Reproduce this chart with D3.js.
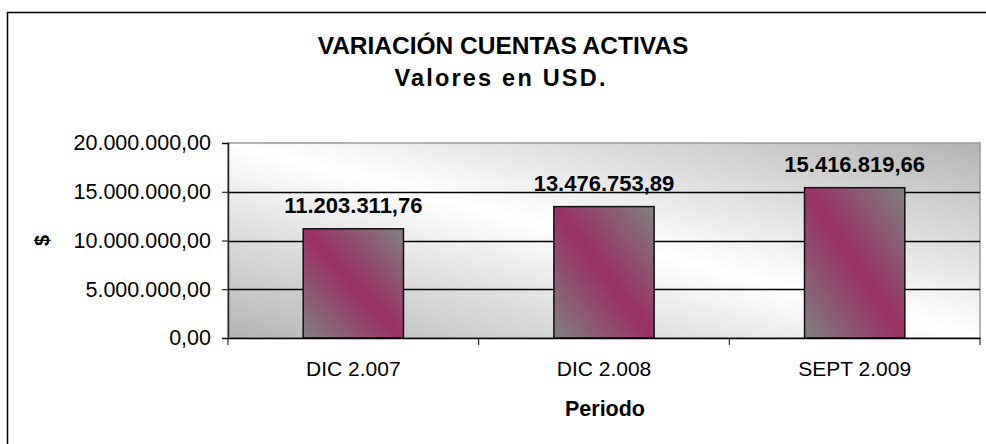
<!doctype html>
<html lang="es">

<head>
    <meta charset="utf-8">
    <title>Variación cuentas activas</title>
    <style>
        body {
            margin: 0;
            background-color: white;
            font-family: 'Liberation Sans', Arial, sans-serif;
        }

        svg text {
            fill: #000;
        }
    </style>
</head>

<body>
    <svg id="chart"></svg>
    <script src="https://d3js.org/d3.v7.min.js"></script>
    <script>

        var categories = ["DIC 2.007", "DIC 2.008", "SEPT 2.009"];
        var values = [11203311.76, 13476753.89, 15416819.66];
        var yTicks = [0, 5000000, 10000000, 15000000, 20000000];

        var titleLines = ["VARIACIÓN CUENTAS ACTIVAS", "Valores en USD."];

        var svgWidth = 986;
        var svgHeight = 444;

        var margin = { top: 143, right: 6, bottom: 106, left: 228 };
        var width = svgWidth - margin.left - margin.right;
        var height = svgHeight - margin.top - margin.bottom;

        var locale = d3.formatLocale({ decimal: ",", thousands: ".", grouping: [3], currency: ["$", ""] });
        var fmt = locale.format(",.2f");

        var svg = d3.select("#chart")
            .attr("width", svgWidth)
            .attr("height", svgHeight);

        var defs = svg.append("defs");

        var bg = defs.append("linearGradient")
            .attr("id", "plot-bg")
            .attr("x1", 0).attr("y1", 1)
            .attr("x2", 1).attr("y2", 0);
        bg.append("stop").attr("offset", "0%").attr("stop-color", "#b4b4b4");
        bg.append("stop").attr("offset", "50%").attr("stop-color", "#ffffff");
        bg.append("stop").attr("offset", "100%").attr("stop-color", "#b4b4b4");

        var barGrad = defs.append("linearGradient")
            .attr("id", "bar-fill")
            .attr("x1", 0).attr("y1", 1)
            .attr("x2", 1).attr("y2", 0);
        barGrad.append("stop").attr("offset", "0%").attr("stop-color", "#808080");
        barGrad.append("stop").attr("offset", "48%").attr("stop-color", "#993366");
        barGrad.append("stop").attr("offset", "52%").attr("stop-color", "#993366");
        barGrad.append("stop").attr("offset", "100%").attr("stop-color", "#808080");

        // outer chart border (cut off at the right and bottom)
        svg.append("rect")
            .attr("x", 7.5).attr("y", 12.5)
            .attr("width", 1000).attr("height", 500)
            .attr("fill", "white")
            .attr("stroke", "#000")
            .attr("stroke-width", 1.5);

        // title
        svg.append("text")
            .attr("x", 503).attr("y", 54)
            .attr("text-anchor", "middle")
            .style("font-size", "24.5px")
            .style("font-weight", "bold")
            .text(titleLines[0]);

        svg.append("text")
            .attr("x", 501).attr("y", 86)
            .attr("text-anchor", "middle")
            .style("font-size", "23.5px")
            .style("font-weight", "bold")
            .style("letter-spacing", "2.2px")
            .text(titleLines[1]);

        var g = svg.append("g")
            .attr("transform", "translate(" + margin.left + "," + margin.top + ")");

        var x = d3.scaleBand()
            .domain(categories)
            .range([0, width])
            .paddingInner(0.6)
            .paddingOuter(0.3);

        var y = d3.scaleLinear()
            .domain([0, 20000000])
            .range([height, 0]);

        g.append("rect")
            .attr("width", width)
            .attr("height", height)
            .attr("fill", "url(#plot-bg)")
            .attr("stroke", "#999")
            .attr("stroke-width", 1.5);

        // gridlines
        g.selectAll(".grid")
            .data(yTicks.filter(function (d) { return d > 0 && d < 20000000 }))
            .enter().append("line")
            .attr("x1", 0).attr("x2", width)
            .attr("y1", function (d) { return Math.round(y(d)) + 0.5 })
            .attr("y2", function (d) { return Math.round(y(d)) + 0.5 })
            .attr("stroke", "#000")
            .attr("stroke-width", 1.3);

        // y axis
        var yAxis = g.append("g")
            .call(d3.axisLeft(y)
                .tickValues(yTicks)
                .tickSize(6)
                .tickPadding(11)
                .tickFormat(fmt));
        yAxis.select(".domain").attr("stroke", "#222").attr("stroke-width", 1.5);
        yAxis.selectAll(".tick line").attr("stroke", "#000");
        yAxis.selectAll("text")
            .style("font-size", "21.5px")
            .style("font-family", "'Liberation Sans', Arial, sans-serif");

        // bars
        g.selectAll(".bar")
            .data(values)
            .enter().append("rect")
            .attr("class", "bar")
            .attr("x", function (d, i) { return x(categories[i]) })
            .attr("y", function (d) { return y(d) })
            .attr("width", x.bandwidth())
            .attr("height", function (d) { return height - y(d) })
            .attr("fill", "url(#bar-fill)")
            .attr("stroke", "#111")
            .attr("stroke-width", 1.5);

        // value labels
        g.selectAll(".value")
            .data(values)
            .enter().append("text")
            .attr("x", function (d, i) { return x(categories[i]) + x.bandwidth() / 2 })
            .attr("y", function (d) { return y(d) - 16 })
            .attr("text-anchor", "middle")
            .style("font-size", "22px")
            .style("font-weight", "bold")
            .text(function (d) { return fmt(d) });

        // x axis
        var xAxis = g.append("g")
            .attr("transform", "translate(0," + height + ")")
            .call(d3.axisBottom(x).tickSize(0).tickPadding(23));
        xAxis.select(".domain").attr("stroke", "#000").attr("stroke-width", 1.5);
        xAxis.selectAll("text")
            .style("font-size", "21px")
            .style("font-family", "'Liberation Sans', Arial, sans-serif");

        // category boundary ticks
        var bounds = [0].concat(categories.map(function (c) { return x(c) + x.bandwidth() / 2 + x.step() / 2 }));
        g.selectAll(".xtick")
            .data(bounds)
            .enter().append("line")
            .attr("x1", function (d) { return d }).attr("x2", function (d) { return d })
            .attr("y1", height).attr("y2", height + 7)
            .attr("stroke", "#000");

        // axis titles
        g.append("text")
            .attr("x", width / 2 + 1)
            .attr("y", height + 78)
            .attr("text-anchor", "middle")
            .style("font-size", "21.5px")
            .style("font-weight", "bold")
            .text("Periodo");

        svg.append("text")
            .attr("transform", "translate(49," + (margin.top + y(10000000)) + ") rotate(-90)")
            .attr("text-anchor", "middle")
            .style("font-size", "20px")
            .style("font-weight", "bold")
            .text("$");
    </script>
</body>

</html>
